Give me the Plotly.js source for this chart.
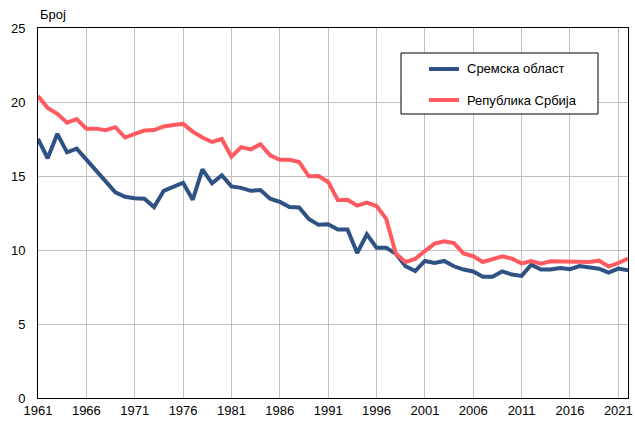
<!DOCTYPE html>
<html>
<head>
<meta charset="utf-8">
<script src="https://cdn.plot.ly/plotly-3.0.1.min.js"></script>
<style>
html,body{margin:0;padding:0;background:#fff;}
#chart{width:635px;height:421px;}
</style>
</head>
<body>
<div id="chart"></div>
<script>
const years = [];
for (let y = 1961; y <= 2022; y++) years.push(y);

const sremska = [
  17.5, 16.2, 17.85, 16.6, 16.85, 16.1, 15.4, 14.65, 13.9, 13.6,
  13.5, 13.47, 12.9, 14.0, 14.25, 14.55, 13.4, 15.45, 14.5, 15.05,
  14.3, 14.2, 14.0, 14.05, 13.47, 13.25, 12.9, 12.88, 12.1, 11.7,
  11.74, 11.38, 11.38, 9.8, 11.06, 10.16, 10.16, 9.75, 8.9, 8.58,
  9.26, 9.12, 9.26, 8.9, 8.68, 8.55, 8.2, 8.2, 8.56, 8.34,
  8.25, 9.01, 8.68, 8.68, 8.79, 8.7, 8.92, 8.85, 8.74, 8.47,
  8.74, 8.63
];

const srbija = [
  20.4, 19.6, 19.2, 18.6, 18.85, 18.2, 18.2, 18.1, 18.3, 17.6,
  17.85, 18.07, 18.1, 18.35, 18.45, 18.52, 18.0, 17.6, 17.3, 17.5,
  16.3, 16.95, 16.8, 17.15, 16.4, 16.1, 16.1, 15.95, 14.98, 15.0,
  14.6, 13.36, 13.4, 13.0, 13.2, 12.97, 12.1, 9.75, 9.19, 9.4,
  9.93, 10.43, 10.59, 10.47, 9.76, 9.58, 9.19, 9.37, 9.57, 9.42,
  9.1, 9.26, 9.08, 9.24, 9.24, 9.19, 9.19, 9.19, 9.28, 8.88,
  9.12, 9.42
];

const xTicks = [1961, 1966, 1971, 1976, 1981, 1986, 1991, 1996, 2001, 2006, 2011, 2016, 2021];
const yTicks = [0, 5, 10, 15, 20, 25];
const seriesNames = ['Сремска област', 'Република Србија'];
const seriesColors = ['#2E5284', '#FF5A5F'];
const yLabel = 'Број';

const traces = [
  {x: years, y: sremska, name: seriesNames[0], type: 'scatter', mode: 'lines',
   line: {color: seriesColors[0], width: 4}},
  {x: years, y: srbija, name: seriesNames[1], type: 'scatter', mode: 'lines',
   line: {color: seriesColors[1], width: 4}}
];

const font = {family: 'Liberation Sans, Arial, sans-serif', size: 13, color: '#000'};

// Legend (drawn as box + sample lines + text in paper coordinates)
const legBox = {x0: 0.6153, x1: 0.9492, y0: 0.7676, y1: 0.9324};
const legRows = [0.8892, 0.8054];
const legLineX = [0.6627, 0.7136];
const legTextX = 0.7237;

const shapes = [
  {type: 'rect', xref: 'paper', yref: 'paper', x0: legBox.x0, x1: legBox.x1, y0: legBox.y0, y1: legBox.y1,
   line: {color: '#000', width: 1}, fillcolor: '#fff', layer: 'above'}
];
const annotations = [
  {text: yLabel, xref: 'paper', yref: 'paper', x: 0, y: 1, xanchor: 'left', yanchor: 'bottom',
   yshift: 4, showarrow: false, font: font}
];
seriesNames.forEach((n, i) => {
  shapes.push({type: 'line', xref: 'paper', yref: 'paper', x0: legLineX[0], x1: legLineX[1],
    y0: legRows[i], y1: legRows[i], line: {color: seriesColors[i], width: 4}, layer: 'above'});
  annotations.push({text: n, xref: 'paper', yref: 'paper', x: legTextX, y: legRows[i],
    xanchor: 'left', yanchor: 'middle', showarrow: false, font: font});
});

const layout = {
  width: 635, height: 421,
  margin: {l: 38, r: 7, t: 28, b: 23, pad: 0},
  paper_bgcolor: '#fff', plot_bgcolor: '#fff',
  font: font,
  showlegend: false,
  xaxis: {
    range: [1961, 2022], tickvals: xTicks, ticktext: xTicks.map(String),
    showgrid: true, gridcolor: '#C0C0C0', gridwidth: 1,
    showline: true, linecolor: '#000', linewidth: 1, mirror: true,
    ticks: '', zeroline: false, tickfont: font
  },
  yaxis: {
    range: [0, 25], tickvals: yTicks, ticktext: yTicks.map(String),
    showgrid: true, gridcolor: '#C0C0C0', gridwidth: 1,
    showline: true, linecolor: '#000', linewidth: 1, mirror: true,
    ticks: 'outside', ticklen: 9, tickcolor: 'rgba(0,0,0,0)',
    zeroline: false, tickfont: font
  },
  shapes: shapes,
  annotations: annotations
};

Plotly.newPlot('chart', traces, layout, {displayModeBar: false, staticPlot: true});
</script>
</body>
</html>
